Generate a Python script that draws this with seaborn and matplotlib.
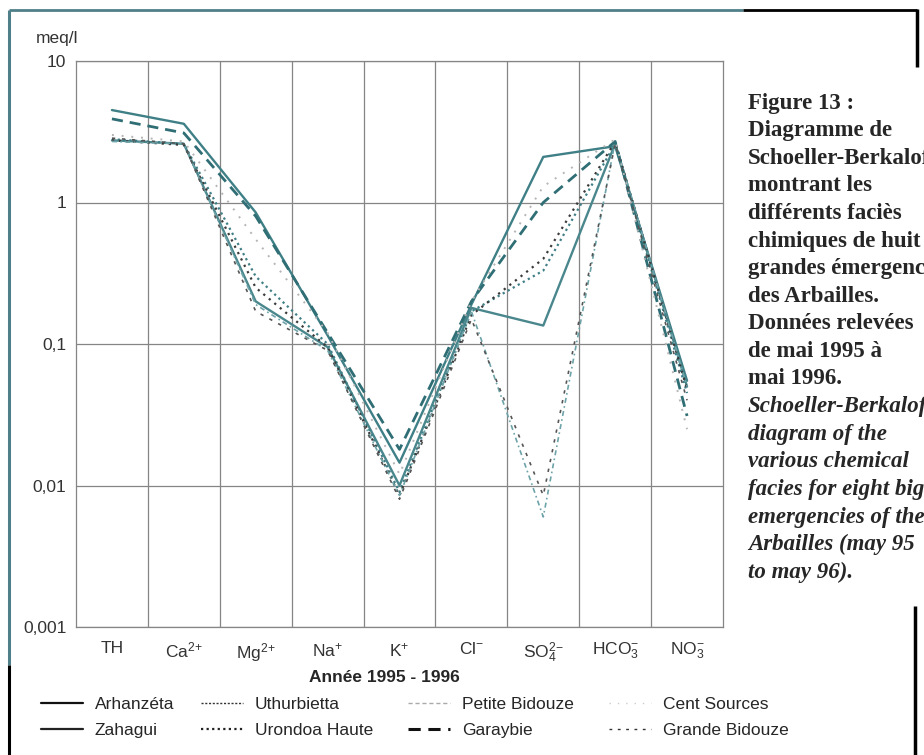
import numpy as np
import pandas as pd
import matplotlib.pyplot as plt
import seaborn as sns
from matplotlib.lines import Line2D

# ions on the x axis
ions = ['TH', 'Ca', 'Mg', 'Na', 'K', 'Cl', 'SO4', 'HCO3', 'NO3']
ion_labels = ['TH', 'Ca$^{2{+}}$', 'Mg$^{2{+}}$', 'Na$^{+}$', 'K$^{+}$', 'Cl$^{-}$',
              'SO$_4^{2{-}}$', 'HCO$_3^{-}$', 'NO$_3^{-}$']

# concentrations in meq/l
arhanzeta = [4.5, 3.6, 0.85, 0.115, 0.0145, 0.19, 2.1, 2.5, 0.055]
zahagui = [2.75, 2.6, 0.20, 0.095, 0.0100, 0.18, 0.135, 2.6, 0.050]
uthurbietta = [2.8, 2.6, 0.30, 0.10, 0.0090, 0.17, 0.33, 2.6, 0.045]
urondoa_haute = [2.75, 2.55, 0.25, 0.095, 0.0085, 0.16, 0.40, 2.7, 0.048]
petite_bidouze = [2.7, 2.6, 0.19, 0.09, 0.0085, 0.17, 0.006, 2.7, 0.050]
garaybie = [3.9, 3.1, 0.80, 0.12, 0.018, 0.20, 1.0, 2.7, 0.031]
cent_sources = [3.0, 2.7, 0.55, 0.12, 0.012, 0.20, 1.3, 2.8, 0.025]
grande_bidouze = [2.85, 2.6, 0.17, 0.09, 0.0080, 0.15, 0.0085, 2.6, 0.040]

sites = ['Arhanzéta', 'Zahagui', 'Uthurbietta', 'Urondoa Haute',
         'Petite Bidouze', 'Garaybie', 'Cent Sources', 'Grande Bidouze']
values = [arhanzeta, zahagui, uthurbietta, urondoa_haute,
          petite_bidouze, garaybie, cent_sources, grande_bidouze]

teal = '#3f7f86'
colors = {'Arhanzéta': teal, 'Zahagui': '#4a878d', 'Uthurbietta': '#3f7f86',
          'Urondoa Haute': '#3a3a3a', 'Petite Bidouze': '#6da3a8',
          'Garaybie': '#2f6e74', 'Cent Sources': '#b5b5b5', 'Grande Bidouze': '#555555'}
dashes = {'Arhanzéta': '', 'Zahagui': '', 'Uthurbietta': (1, 1.6),
          'Urondoa Haute': (1, 2.2), 'Petite Bidouze': (3, 2, 1, 2),
          'Garaybie': (4, 2.5), 'Cent Sources': (1, 4), 'Grande Bidouze': (2, 4)}
widths = {'Arhanzéta': 1.7, 'Zahagui': 1.7, 'Uthurbietta': 1.6, 'Urondoa Haute': 1.6,
          'Petite Bidouze': 1.2, 'Garaybie': 2.0, 'Cent Sources': 1.4, 'Grande Bidouze': 1.2}

rows = []
for site, vals in zip(sites, values):
    for ion, v in zip(ions, vals):
        rows.append({'ion': ion, 'meq': v, 'site': site})
df = pd.DataFrame(rows)

sns.set_style('white')
plt.rcParams['font.family'] = ['Liberation Sans', 'DejaVu Sans']
plt.rcParams['mathtext.default'] = 'regular'

W, H = 924, 755
fx = lambda px: px / W
fy = lambda py: 1 - py / H

fig = plt.figure(figsize=(W / 100, H / 100), dpi=100)
ax = fig.add_axes([fx(76), fy(627), (723 - 76) / W, (627 - 61) / H])

sns.lineplot(data=df, x='ion', y='meq', hue='site', style='site', size='site',
             palette=colors, dashes=dashes, sizes=widths, sort=False,
             legend=False, ax=ax)

ax.set_yscale('log')
ax.set_ylim(0.001, 10)
ax.set_xlim(-0.5, 8.5)
ax.set_yticks([0.001, 0.01, 0.1, 1, 10], labels=['0,001', '0,01', '0,1', '1', '10'])
ax.yaxis.set_minor_locator(plt.NullLocator())
ax.set_xticks(range(9), labels=ion_labels)
ax.set_xticks(np.arange(0.5, 8, 1), minor=True)
ax.set_xlabel('')
ax.set_ylabel('')
ax.tick_params(axis='both', which='both', length=0, labelsize=12.5, labelcolor='#333333')
ax.tick_params(axis='y', pad=7)
ax.tick_params(axis='x', pad=10)
ax.grid(which='minor', axis='x', color='#858585', lw=0.9)
ax.grid(which='major', axis='y', color='#858585', lw=0.9)
ax.grid(which='major', axis='x', visible=False)
ax.set_axisbelow(True)
for sp in ax.spines.values():
    sp.set_color('#858585')
    sp.set_linewidth(0.9)

fig.text(fx(57), fy(38), 'meq/l', ha='center', va='center', fontsize=12.5, color='#333333')
fig.text(fx(384), fy(678), 'Année 1995 - 1996', ha='center', va='center',
         fontsize=12.5, fontweight='bold')

# legend, one column at a time so each sits where it does in the figure
leg_style = [
    ('Arhanzéta', '#111111', '-', 1.6), ('Zahagui', '#222222', '-', 1.6),
    ('Uthurbietta', '#333333', (0, (1.5, 1.2)), 1.0), ('Urondoa Haute', '#222222', (0, (1, 1.5)), 1.6),
    ('Petite Bidouze', '#aaaaaa', (0, (3, 2)), 1.0), ('Garaybie', '#111111', (0, (4, 2.5)), 2.2),
    ('Cent Sources', '#cccccc', (0, (1, 5)), 1.0), ('Grande Bidouze', '#333333', (0, (2, 4)), 1.0),
]
col_x = [41, 201, 408, 609]
for c in range(4):
    entries = leg_style[2 * c:2 * c + 2]
    handles = [Line2D([], [], color=col, linestyle=ls, lw=lw) for _, col, ls, lw in entries]
    labels = [e[0] for e in entries]
    fig.legend(handles, labels, loc='upper left', bbox_to_anchor=(fx(col_x[c]), fy(697)),
               frameon=False, fontsize=12.5, handlelength=2.4, handletextpad=0.7,
               labelspacing=0.6, borderpad=0, borderaxespad=0)

# caption on the right, cut by the page edge as in the original
caption = [('Figure 13 :', 'normal'), ('Diagramme de', 'normal'), ('Schoeller-Berkaloff', 'normal'),
           ('montrant les', 'normal'), ('différents faciès', 'normal'), ('chimiques de huit', 'normal'),
           ('grandes émergences', 'normal'), ('des Arbailles.', 'normal'), ('Données relevées', 'normal'),
           ('de mai 1995 à', 'normal'), ('mai 1996.', 'normal'), ('Schoeller-Berkaloff', 'italic'),
           ('diagram of the', 'italic'), ('various chemical', 'italic'), ('facies for eight big', 'italic'),
           ('emergencies of the', 'italic'), ('Arbailles (may 95', 'italic'), ('to may 96).', 'italic')]
for i, (line, st) in enumerate(caption):
    fig.text(fx(748), fy(103 + 27.6 * i), line, ha='left', va='center', fontsize=16.5,
             fontweight='bold', fontstyle=st, family=['Liberation Serif', 'DejaVu Serif'])

# page frame pieces
frame = '#4f8089'
def seg(x0, y0, x1, y1, color, lw):
    fig.add_artist(Line2D([fx(x0), fx(x1)], [fy(y0), fy(y1)], transform=fig.transFigure,
                          color=color, lw=lw, solid_capstyle='butt'))
seg(9, 10, 9, 665, frame, 2.2)
seg(9, 665, 9, 755, 'black', 2.2)
seg(9, 10, 743, 10, frame, 2.0)
seg(743, 10, 917, 10, 'black', 2.0)
seg(917, 9, 917, 67, 'black', 2.5)
seg(915, 606, 915, 755, 'black', 2.5)

fig.savefig('out.png', dpi=100)
